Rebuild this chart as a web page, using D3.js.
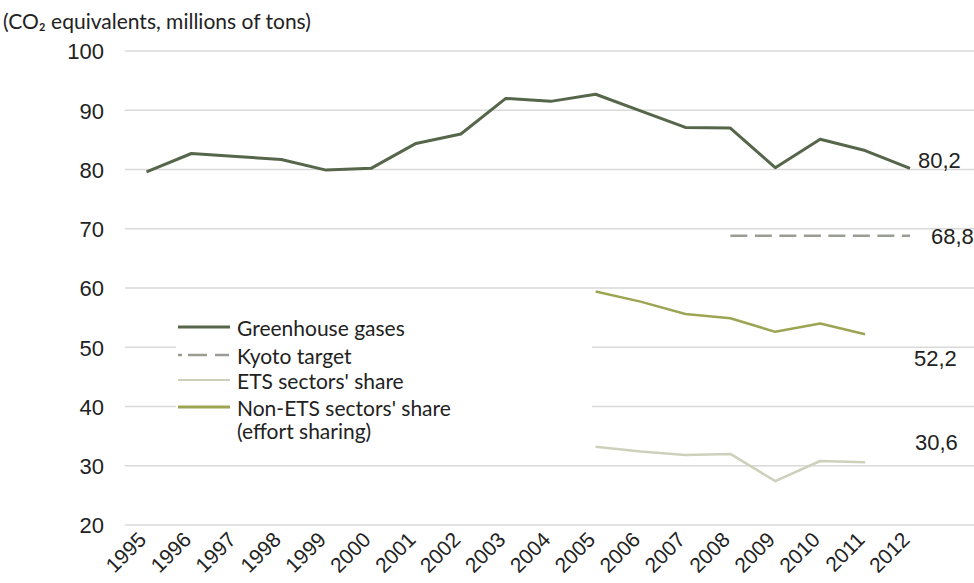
<!DOCTYPE html>
<html>
<head>
<meta charset="utf-8">
<script src="https://cdn.jsdelivr.net/npm/d3@7"></script>
<style>
  html, body { margin: 0; padding: 0; background: #fff; }
  svg { display: block; }
</style>
</head>
<body>
<svg id="chart" width="974" height="583"></svg>
<script>
// Emissions, CO2 equivalents, millions of tons
const years = [1995, 1996, 1997, 1998, 1999, 2000, 2001, 2002, 2003, 2004,
               2005, 2006, 2007, 2008, 2009, 2010, 2011, 2012];
const greenhouse = [79.6, 82.7, 82.2, 81.7, 79.9, 80.2, 84.4, 86.0, 92.0, 91.5,
                    92.7, 89.9, 87.1, 87.0, 80.3, 85.1, 83.2, 80.2];
const kyotoYears = [2008, 2009, 2010, 2011, 2012];
const kyotoTarget = [68.8, 68.8, 68.8, 68.8, 68.8];
const sectorYears = [2005, 2006, 2007, 2008, 2009, 2010, 2011];
const etsShare = [33.2, 32.4, 31.8, 32.0, 27.4, 30.8, 30.6];
const nonEtsShare = [59.4, 57.7, 55.6, 54.9, 52.6, 54.0, 52.2];
const yTicks = [20, 30, 40, 50, 60, 70, 80, 90, 100];
const legendItems = ["Greenhouse gases", "Kyoto target", "ETS sectors' share",
                     "Non-ETS sectors' share", "(effort sharing)"];

const colors = {
  greenhouse: "#56664a",
  kyoto: "#9a9d94",
  ets: "#cdd1bc",
  nonEts: "#9ba553",
  grid: "#d9d9d9",
  text: "#222222"
};

const svg = d3.select("#chart");
const W = 974;

const x = d3.scalePoint().domain(years).range([146.5, 910]);
const y = d3.scaleLinear().domain([20, 100]).range([525, 51]);

// gridlines
svg.append("g").selectAll("line").data(yTicks).join("line")
  .attr("x1", 125).attr("x2", W)
  .attr("y1", d => y(d)).attr("y2", d => y(d))
  .attr("stroke", colors.grid).attr("stroke-width", 1.5);

// y axis labels
const yAxis = d3.axisLeft(y).tickValues(yTicks).tickSize(0).tickPadding(0);
const yG = svg.append("g").attr("transform", "translate(104,0)").call(yAxis);
yG.select(".domain").remove();
yG.selectAll("text")
  .attr("font-family", "'Liberation Sans', Arial, sans-serif")
  .attr("font-size", 22).attr("fill", colors.text).attr("dy", "0.36em");

// x axis labels (rotated)
const xAxis = d3.axisBottom(x).tickSize(0).tickPadding(0);
const xG = svg.append("g").call(xAxis);
xG.select(".domain").remove();
xG.selectAll(".tick").attr("transform", d => `translate(${x(d) + 1},541)`);
xG.selectAll("text")
  .attr("font-family", "'Liberation Sans', Arial, sans-serif")
  .attr("font-size", 21).attr("fill", colors.text)
  .attr("text-anchor", "end").attr("dy", 0).attr("y", 0)
  .attr("transform", "rotate(-45)");

// series lines
function drawLine(xs, vals, stroke, width, dash) {
  const pts = xs.map((yr, i) => [x(yr), y(vals[i])]);
  const path = svg.append("path")
    .attr("d", d3.line()(pts))
    .attr("fill", "none")
    .attr("stroke", stroke)
    .attr("stroke-width", width)
    .attr("stroke-linejoin", "round");
  if (dash) path.attr("stroke-dasharray", dash);
  return path;
}
drawLine(years, greenhouse, colors.greenhouse, 3);
drawLine(kyotoYears, kyotoTarget, colors.kyoto, 2.5, "17,7.5");
drawLine(sectorYears, etsShare, colors.ets, 2.5);
drawLine(sectorYears, nonEtsShare, colors.nonEts, 2.5);

// end value labels
const endLabels = [
  { text: "80,2", x: 918, y: 160 },
  { text: "68,8", x: 931, y: 236 },
  { text: "52,2", x: 914, y: 358 },
  { text: "30,6", x: 915, y: 442 }
];
svg.append("g").selectAll("text").data(endLabels).join("text")
  .attr("x", d => d.x).attr("y", d => d.y).attr("dy", "0.36em")
  .attr("font-family", "'Liberation Sans', Arial, sans-serif")
  .attr("font-size", 22).attr("fill", colors.text)
  .text(d => d.text);

// legend
const legend = svg.append("g");
legend.append("rect")
  .attr("x", 176).attr("y", 297).attr("width", 416).attr("height", 146)
  .attr("fill", "#fff");
const legendY = [327, 355, 380, 407, 432];
const swatches = [
  { stroke: colors.greenhouse, w: 3, dash: null },
  { stroke: colors.kyoto, w: 2.5, dash: "4,6,19,8,14" },
  { stroke: colors.ets, w: 2, dash: null },
  { stroke: colors.nonEts, w: 3, dash: null }
];
swatches.forEach((s, i) => {
  const l = legend.append("line")
    .attr("x1", 178).attr("x2", 230)
    .attr("y1", legendY[i]).attr("y2", legendY[i])
    .attr("stroke", s.stroke).attr("stroke-width", s.w);
  if (s.dash) l.attr("stroke-dasharray", s.dash);
});
legend.selectAll("text").data(legendItems).join("text")
  .attr("x", 237).attr("y", (d, i) => legendY[i] + (i === 4 ? 0 : 2)).attr("dy", "0.35em")
  .attr("font-family", "Lato, 'Open Sans', sans-serif")
  .attr("font-size", 21).attr("fill", colors.text)
  .text(d => d);

// unit subtitle
svg.append("text")
  .attr("x", 3).attr("y", 29)
  .attr("font-family", "Lato, 'Open Sans', sans-serif")
  .attr("font-size", 21).attr("fill", colors.text)
  .text("(CO₂ equivalents, millions of tons)");
</script>
</body>
</html>
